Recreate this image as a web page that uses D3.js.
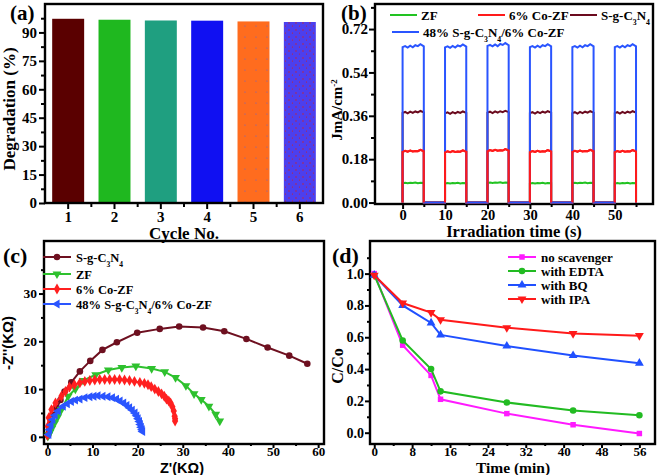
<!DOCTYPE html>
<html>
<head>
<meta charset="utf-8">
<script src="https://cdn.jsdelivr.net/npm/d3@7"></script>
<style>
  body { margin: 0; background: #fff; }
  svg text { font-family: "Liberation Serif", "Times New Roman", serif; font-weight: bold; fill: #000; }
</style>
</head>
<body>
<div id="chart"></div>
<script>
// ---- panel (a): recycling ----
var cycles = ["1", "2", "3", "4", "5", "6"];
var degradation = [97.2, 96.7, 96.3, 96.2, 95.8, 95.5];
var barColors = ["#5a0000", "#1fb81f", "#1f9f80", "#1010f2", "#ff6c1e", "#4c3fee"];
var degTicks = [0, 15, 30, 45, 60, 75, 90];

// ---- panel (b): photocurrent ----
var pulseStarts = [0, 10, 20, 30, 40, 50];
var pulseOffsets = [0, 0.6, 1.2, 1.8, 2.4, 3.0, 3.6, 4.2, 5];
var timeTicks = [0, 10, 20, 30, 40, 50];
var currentTicks = [0, 0.18, 0.36, 0.54, 0.72];
var zfLevel = [0.080, 0.079, 0.081, 0.079, 0.080, 0.079];
var zfRipple = [0, 0.002, 0, 0.002, 0.001, 0.003, 0, 0.002, 0.001];
var coLevel = [0.210, 0.208, 0.213, 0.209, 0.210, 0.209];
var coRipple = [0, 0.005, 0.001, 0.006, 0.002, 0.004, 0.003, 0.009, 0.003];
var sgLevel = [0.372, 0.370, 0.373, 0.371, 0.371, 0.371];
var sgRipple = [0, 0.004, -0.002, 0.005, 0, 0.006, 0.002, 0.008, 0.002];
var compLevel = [0.645, 0.644, 0.650, 0.645, 0.645, 0.645];
var compRipple = [0, 0.004, -0.002, 0.006, -0.001, 0.008, 0.004, 0.012, 0.003];

// ---- panel (c): Nyquist ----
var sgZre = [0.15, 0.4, 0.6, 1.0, 1.5, 2.1, 2.9, 3.8, 5.3, 7.2, 9.5, 12.2, 15.4, 19.9, 24.9, 29.2, 34.5, 39.2, 44.1, 48.8, 53.6, 57.6];
var sgZim = [0.3, 1.1, 2.2, 3.3, 4.6, 6.0, 7.7, 9.5, 11.4, 13.7, 15.9, 18.2, 19.8, 21.8, 22.6, 23.1, 22.9, 22.1, 20.5, 18.7, 17.0, 15.3];
var zfZre = [0.1, 0.3, 0.6, 1.0, 1.6, 2.3, 3.1, 4.6, 6.2, 7.9, 10.7, 13.5, 16.5, 19.6, 23.1, 26.0, 28.4, 30.7, 32.5, 34.1, 35.8, 37.3, 38.2];
var zfZim = [0.1, 0.5, 1.0, 1.8, 2.9, 4.2, 5.7, 8.5, 10.0, 11.8, 13.0, 14.0, 14.5, 14.8, 14.3, 13.6, 12.4, 10.7, 9.0, 7.8, 6.4, 4.7, 3.3];
var coZre = [0.0, 0.1, 0.3, 0.9, 1.8, 3.1, 4.0, 4.9, 6.0, 7.2, 8.3, 9.4, 10.5, 11.6, 12.7, 13.8, 14.9, 16.0, 17.1, 18.2, 19.3, 20.5, 21.5, 22.3, 23.0, 23.8, 24.6, 25.3, 25.9, 26.4, 26.9, 27.3, 27.7, 28.0, 28.2, 28.3, 28.3];
var coZim = [0.3, 2.2, 4.0, 5.7, 7.1, 8.5, 9.5, 10.4, 10.9, 11.3, 11.6, 11.8, 11.9, 12.0, 12.0, 12.0, 12.0, 12.0, 11.9, 11.8, 11.6, 11.4, 11.2, 10.9, 10.5, 10.0, 9.5, 9.0, 8.5, 7.9, 7.5, 7.1, 6.3, 5.4, 4.3, 3.8, 3.3];
var compZre = [0.3, 0.5, 0.8, 1.2, 1.7, 2.4, 3.5, 4.4, 5.3, 6.2, 7.2, 8.3, 9.4, 10.3, 11.2, 12.3, 13.4, 14.4, 15.3, 16.1, 16.9, 17.6, 18.2, 18.8, 19.4, 19.8, 20.1, 20.4, 20.6, 20.8, 21.0, 21.1];
var compZim = [0.5, 1.5, 2.5, 3.6, 4.5, 5.4, 6.4, 6.9, 7.4, 7.7, 7.9, 8.2, 8.4, 8.5, 8.6, 8.5, 8.4, 8.2, 7.9, 7.5, 7.1, 6.6, 6.1, 5.6, 5.0, 4.4, 3.8, 3.2, 2.6, 2.0, 1.5, 1.1];
var zTicks = [0, 10, 20, 30, 40, 50, 60];
var zimTicks = [0, 10, 20, 30];

// ---- panel (d): scavengers ----
var timeMin = [0, 6, 12, 14, 28, 42, 56];
var noScav = [1.0, 0.55, 0.36, 0.21, 0.12, 0.05, -0.005];
var withEdta = [0.99, 0.58, 0.40, 0.26, 0.19, 0.14, 0.11];
var withBq = [0.99, 0.80, 0.69, 0.615, 0.545, 0.485, 0.437];
var withIpa = [0.99, 0.815, 0.755, 0.71, 0.66, 0.623, 0.61];
var minTicks = [0, 8, 16, 24, 32, 40, 48, 56];
var ccTicks = [0, 0.2, 0.4, 0.6, 0.8, 1.0];

var svg = d3.select("#chart").append("svg")
    .attr("width", 661)
    .attr("height", 475);

var sans = "'Liberation Sans', Arial, sans-serif";

function frame(g, x0, x1, yTop, yBot) {
    g.append("rect")
        .attr("x", x0).attr("y", yTop)
        .attr("width", x1 - x0).attr("height", yBot - yTop)
        .attr("fill", "none").attr("stroke", "#000").attr("stroke-width", 2.4);
}

function axisStyle(sel, size) {
    sel.select(".domain").remove();
    sel.selectAll(".tick line").attr("stroke", "#000").attr("stroke-width", 2);
    sel.selectAll(".tick text").style("font-size", size + "px")
        .style("font-family", "'Liberation Serif', 'Times New Roman', serif")
        .style("font-weight", "bold");
}

function bottomAxis(g, x, yPos, major, minor, fmt, size, len, pad) {
    g.append("g").attr("transform", "translate(0," + yPos + ")")
        .call(d3.axisBottom(x).tickValues(minor).tickSize(len - 2).tickFormat(""))
        .call(axisStyle, size);
    g.append("g").attr("transform", "translate(0," + yPos + ")")
        .call(d3.axisBottom(x).tickValues(major).tickSize(len).tickPadding(pad).tickFormat(fmt))
        .call(axisStyle, size);
}

function leftAxis(g, y, xPos, major, minor, fmt, size, len, pad) {
    g.append("g").attr("transform", "translate(" + xPos + ",0)")
        .call(d3.axisLeft(y).tickValues(minor).tickSize(len - 2).tickFormat(""))
        .call(axisStyle, size);
    g.append("g").attr("transform", "translate(" + xPos + ",0)")
        .call(d3.axisLeft(y).tickValues(major).tickSize(len).tickPadding(pad).tickFormat(fmt))
        .call(axisStyle, size);
}

function yTitle(g, x, y, size, font) {
    return g.append("text")
        .attr("transform", "translate(" + x + "," + y + ") rotate(-90)")
        .attr("text-anchor", "middle")
        .style("font-size", size + "px")
        .style("font-family", font || null);
}

function panelLabel(g, text, x, y, size) {
    g.append("text").attr("x", x).attr("y", y).style("font-size", size + "px").text(text);
}

// chemistry label with subscripts: S-g-C3N4
function addFormula(t, parts) {
    parts.forEach(function(p) {
        var s = t.append("tspan").text(p[0]);
        if (p[1]) s.attr("baseline-shift", "sub").style("font-size", "0.6em");
    });
}
var sgParts = [["S-g-C"], ["3", true], ["N"], ["4", true]];
var compParts = [["48% S-g-C"], ["3", true], ["N"], ["4", true], ["/6% Co-ZF"]];

// =================== (a) ===================
(function() {
    var g = svg.append("g");
    var x = d3.scaleBand().domain(cycles).range([45, 323]).paddingInner(0.31).paddingOuter(0.155);
    var y = d3.scaleLinear().domain([0, 105]).range([203, 4]);

    var defs = svg.append("defs");
    var p6 = defs.append("pattern").attr("id", "dots6").attr("patternUnits", "userSpaceOnUse")
        .attr("width", 7).attr("height", 7);
    p6.append("circle").attr("cx", 2).attr("cy", 2).attr("r", 0.7).attr("fill", "#d02020");
    p6.append("circle").attr("cx", 5.5).attr("cy", 5).attr("r", 0.6).attr("fill", "#d02020");
    var p5 = defs.append("pattern").attr("id", "dots5").attr("patternUnits", "userSpaceOnUse")
        .attr("width", 11).attr("height", 11);
    p5.append("circle").attr("cx", 3).attr("cy", 4).attr("r", 0.6).attr("fill", "#6060d0");

    g.selectAll("rect.bar").data(degradation).enter().append("rect")
        .attr("class", "bar")
        .attr("x", function(d, i) { return x(cycles[i]); })
        .attr("y", function(d) { return y(d); })
        .attr("width", x.bandwidth())
        .attr("height", function(d) { return y(0) - y(d); })
        .attr("fill", function(d, i) { return barColors[i]; });
    g.selectAll("rect.dots").data(degradation.slice(4)).enter().append("rect")
        .attr("x", function(d, i) { return x(cycles[i + 4]); })
        .attr("y", function(d) { return y(d); })
        .attr("width", x.bandwidth())
        .attr("height", function(d) { return y(0) - y(d); })
        .attr("fill", function(d, i) { return i === 0 ? "url(#dots5)" : "url(#dots6)"; });

    frame(g, 45, 323, 4, 203);
    // minor ticks between bars
    g.selectAll("line.mx").data(cycles.slice(0, 5)).enter().append("line")
        .attr("x1", function(c) { return x(c) + x.bandwidth() + x.step() * 0.155; })
        .attr("x2", function(c) { return x(c) + x.bandwidth() + x.step() * 0.155; })
        .attr("y1", 203).attr("y2", 207)
        .attr("stroke", "#000").attr("stroke-width", 2);
    g.append("g").attr("transform", "translate(0,203)")
        .call(d3.axisBottom(x).tickSize(6).tickPadding(2))
        .call(axisStyle, 15);
    leftAxis(g, y, 45, degTicks, [7.5, 22.5, 37.5, 52.5, 67.5, 82.5, 97.5], d3.format("d"), 15, 6, 2);

    g.append("text").attr("x", 184).attr("y", 239).attr("text-anchor", "middle")
        .style("font-size", "17px").text("Cycle No.");
    yTitle(g, 15, 109, 17).text("Degradation (%)");
    panelLabel(g, "(a)", 10, 19.5, 21);
})();

// =================== (b) ===================
(function() {
    var g = svg.append("g");
    var x = d3.scaleLinear().domain([-6.5, 59]).range([375, 653]);
    var y = d3.scaleLinear().domain([-0.006, 0.824]).range([204, 4]);

    function pulses(level, ripple) {
        return pulseStarts.map(function(t, k) {
            var pts = [{ t: t, v: 0 }];
            pulseOffsets.forEach(function(o, j) { pts.push({ t: t + o, v: level[k] + ripple[j] }); });
            pts.push({ t: t + 5, v: 0 });
            return pts;
        });
    }
    var series = [
        { color: "#22c322", p: pulses(zfLevel, zfRipple) },
        { color: "#6b0a1e", p: pulses(sgLevel, sgRipple) },
        { color: "#ff1a1a", p: pulses(coLevel, coRipple) },
        { color: "#2a55ff", p: pulses(compLevel, compRipple) }
    ];
    var line = d3.line().x(function(d) { return x(d.t); }).y(function(d) { return y(d.v); });

    frame(g, 375, 653, 4, 204);
    series.forEach(function(s) {
        g.append("path").attr("d", line([].concat.apply([], s.p)))
            .attr("fill", "none").attr("stroke", s.color).attr("stroke-width", 2);
    });
    // red pulses sit on top of the blue edges
    g.selectAll("path.redp").data(series[2].p).enter().append("path")
        .attr("d", line).attr("fill", "none").attr("stroke", series[2].color).attr("stroke-width", 2);

    bottomAxis(g, x, 204, timeTicks, [5, 15, 25, 35, 45, 55], d3.format("d"), 14.5, 5, 1);
    leftAxis(g, y, 375, currentTicks, [0.09, 0.27, 0.45, 0.63, 0.81], d3.format(".2f"), 15, 6, 1);

    g.append("text").attr("x", 514).attr("y", 237).attr("text-anchor", "middle")
        .style("font-size", "16.5px").text("Irradiation time (s)");
    var yt = yTitle(g, 342, 110, 15);
    yt.append("tspan").text("JmA/cm");
    yt.append("tspan").attr("baseline-shift", "super").style("font-size", "0.6em").text("-2");
    panelLabel(g, "(b)", 341, 19.5, 21);

    // legend
    var leg = [
        { c: series[0].color, x: 390, y: 15, parts: [["ZF"]] },
        { c: series[2].color, x: 478, y: 15, parts: [["6% Co-ZF"]] },
        { c: series[1].color, x: 570, y: 15, parts: sgParts },
        { c: series[3].color, x: 392, y: 32, parts: compParts }
    ];
    leg.forEach(function(l) {
        g.append("line").attr("x1", l.x).attr("x2", l.x + 27).attr("y1", l.y).attr("y2", l.y)
            .attr("stroke", l.c).attr("stroke-width", 2);
        var t = g.append("text").attr("x", l.x + 31).attr("y", l.y + 4.5).style("font-size", "13px");
        addFormula(t, l.parts);
    });
})();

// markers
function marker(kind) {
    if (kind === "circle") return { path: d3.symbol(d3.symbolCircle, 34)(), rot: 0 };
    if (kind === "square") return { path: d3.symbol(d3.symbolSquare, 30)(), rot: 0 };
    if (kind === "diamond") return { path: d3.symbol(d3.symbolDiamond, 34)(), rot: 0 };
    if (kind === "up") return { path: d3.symbol(d3.symbolTriangle, 34)(), rot: 0 };
    if (kind === "down") return { path: d3.symbol(d3.symbolTriangle, 34)(), rot: 180 };
    if (kind === "left") return { path: d3.symbol(d3.symbolTriangle, 34)(), rot: -90 };
}

function drawSeries(g, x, y, xs, ys, color, kind) {
    var pts = xs.map(function(v, i) { return [v, ys[i]]; });
    g.append("path")
        .attr("d", d3.line().x(function(d) { return x(d[0]); }).y(function(d) { return y(d[1]); })(pts))
        .attr("fill", "none").attr("stroke", color).attr("stroke-width", 2);
    var m = marker(kind);
    g.selectAll(null).data(pts).enter().append("path")
        .attr("d", m.path)
        .attr("transform", function(d) { return "translate(" + x(d[0]) + "," + y(d[1]) + ") rotate(" + m.rot + ")"; })
        .attr("fill", color);
}

function legendRow(g, x, yPos, color, kind, parts, size) {
    g.append("line").attr("x1", x).attr("x2", x + 28).attr("y1", yPos).attr("y2", yPos)
        .attr("stroke", color).attr("stroke-width", 2);
    var m = marker(kind);
    g.append("path").attr("d", m.path)
        .attr("transform", "translate(" + (x + 14) + "," + yPos + ") rotate(" + m.rot + ")")
        .attr("fill", color);
    var t = g.append("text").attr("x", x + 33).attr("y", yPos + 4.5).style("font-size", size + "px");
    addFormula(t, parts);
}

// =================== (c) ===================
(function() {
    var g = svg.append("g");
    var x = d3.scaleLinear().domain([-0.75, 61.3]).range([44, 324]);
    var y = d3.scaleLinear().domain([-1.5, 41]).range([444, 241]);

    frame(g, 44, 324, 241, 444);
    drawSeries(g, x, y, sgZre, sgZim, "#6e1020", "circle");
    drawSeries(g, x, y, zfZre, zfZim, "#2ec12e", "down");
    drawSeries(g, x, y, coZre, coZim, "#ff2020", "diamond");
    drawSeries(g, x, y, compZre, compZim, "#2a55ff", "left");

    bottomAxis(g, x, 444, zTicks, [5, 15, 25, 35, 45, 55], d3.format("d"), 13, 4, -1);
    leftAxis(g, y, 44, zimTicks, [5, 15, 25, 35], d3.format("d"), 13.5, 5, 2);

    g.append("text").attr("x", 182).attr("y", 472.5).attr("text-anchor", "middle")
        .style("font-size", "14.5px").style("font-family", sans).text("Z'(K\u03A9)");
    yTitle(g, 13, 343, 15, sans).text("-Z''(K\u03A9)");
    panelLabel(g, "(c)", 3, 263, 22);

    legendRow(g, 43, 257, "#6e1020", "circle", sgParts, 12.5);
    legendRow(g, 43, 274, "#2ec12e", "down", [["ZF"]], 12.5);
    legendRow(g, 43, 289, "#ff2020", "diamond", [["6% Co-ZF"]], 12.5);
    legendRow(g, 43, 304, "#2a55ff", "left", compParts, 12.5);
})();

// =================== (d) ===================
(function() {
    var g = svg.append("g");
    var x = d3.scaleLinear().domain([-0.9, 59.3]).range([370, 655]);
    var y = d3.scaleLinear().domain([-0.071, 1.205]).range([444, 241]);

    frame(g, 370, 655, 241, 444);
    drawSeries(g, x, y, timeMin, noScav, "#ff1aff", "square");
    drawSeries(g, x, y, timeMin, withEdta, "#22bb22", "circle");
    drawSeries(g, x, y, timeMin, withBq, "#2050ff", "up");
    drawSeries(g, x, y, timeMin, withIpa, "#ff1a1a", "down");

    bottomAxis(g, x, 444, minTicks, [4, 12, 20, 28, 36, 44, 52], d3.format("d"), 13, 4, -1);
    leftAxis(g, y, 370, ccTicks, [0.1, 0.3, 0.5, 0.7, 0.9, 1.1], d3.format(".1f"), 14, 5, 1);

    g.append("text").attr("x", 513).attr("y", 472.5).attr("text-anchor", "middle")
        .style("font-size", "15.5px").text("Time (min)");
    yTitle(g, 343, 366, 16).text("C/Co");
    panelLabel(g, "(d)", 332, 263, 22);

    legendRow(g, 508, 257, "#ff1aff", "square", [["no scavenger"]], 13);
    legendRow(g, 508, 271, "#22bb22", "circle", [["with EDTA"]], 13);
    legendRow(g, 508, 285, "#2050ff", "up", [["with BQ"]], 13);
    legendRow(g, 508, 299, "#ff1a1a", "down", [["with IPA"]], 13);
})();
</script>
</body>
</html>
